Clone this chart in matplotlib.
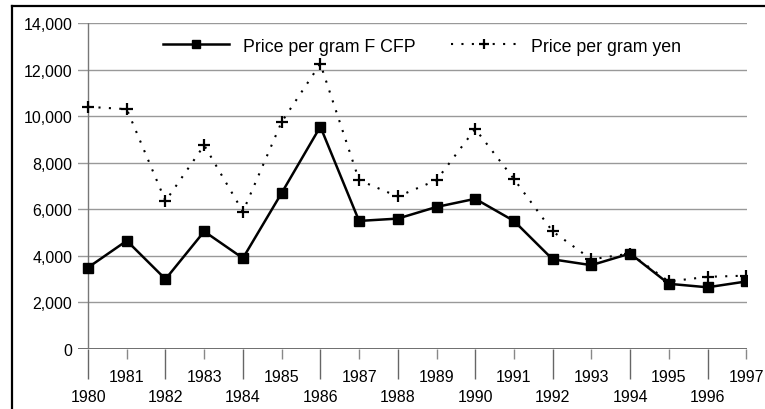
import matplotlib as mplt
mplt.use("Agg")
import matplotlib.pyplot as plt
from matplotlib.lines import Line2D
from matplotlib.ticker import FuncFormatter

# data
years = list(range(1980, 1998))
price_cfp = [3500, 4650, 3000, 5050, 3900, 6700, 9550, 5500, 5600,
             6100, 6450, 5500, 3850, 3600, 4100, 2800, 2650, 2900]
price_yen = [10400, 10300, 6350, 8750, 5900, 9750, 12250, 7250, 6550,
             7250, 9450, 7300, 5050, 3850, 4100, 2900, 3100, 3150]
y_ticks = list(range(0, 14001, 2000))
even_years = [y for y in years if y % 2 == 0]
odd_years = [y for y in years if y % 2 == 1]

plt.rcParams["font.family"] = ["Liberation Sans", "DejaVu Sans"]

fig = plt.figure(figsize=(7.65, 4.10), dpi=100)
ax = fig.add_axes([78 / 765, 1 - 350 / 410, (747 - 78) / 765, (350 - 24) / 410])

# scanned page border (left and top edges)
fig.add_artist(Line2D([12 / 765, 12 / 765], [0, 1 - 7 / 410], color="k", lw=1.6))
fig.add_artist(Line2D([12 / 765, 1], [1 - 7 / 410, 1 - 7 / 410], color="k", lw=1.6))

for yv in y_ticks[1:]:
    ax.axhline(yv, color="#999999", lw=1, zorder=1)
ax.axhline(0, color="#555555", lw=1.2, zorder=1)
ax.axvline(years[0], color="#777777", lw=1, zorder=1)

ax.plot(years, price_cfp, color="k", lw=1.8, marker="s", ms=7.5,
        label="Price per gram F CFP", zorder=3)
ax.plot(years, price_yen, color="k", lw=1.5, ls=(0, (1, 4)), marker="+",
        ms=9, mew=1.6, label="Price per gram yen", zorder=3)

ax.set_xlim(1979.74, 1997.02)
ax.set_ylim(0, 14000)

ax.set_yticks(y_ticks)
ax.yaxis.set_major_formatter(FuncFormatter(lambda v, p: f"{int(v):,}"))
ax.tick_params(axis="y", length=0, pad=4, labelsize=11.5)

ax.set_xticks(even_years)
ax.set_xticks(odd_years, minor=True)
ax.set_xticklabels([str(y) for y in even_years])
ax.set_xticklabels([str(y) for y in odd_years], minor=True)
ax.tick_params(axis="x", which="major", length=21.6, width=1, color="#666666",
               pad=7, labelsize=11.5)
ax.tick_params(axis="x", which="minor", length=7.2, width=1, color="#888888",
               pad=7.5, labelsize=11.5)

for s in ax.spines.values():
    s.set_visible(False)

ax.legend(loc="center left", bbox_to_anchor=(0.127, 0.929), ncol=2,
          frameon=False, borderpad=0, borderaxespad=0, handlelength=3.7,
          handletextpad=0.8, columnspacing=2.0, markerscale=0.8,
          prop={"size": 12.8})

fig.savefig("out.png", dpi=100)
